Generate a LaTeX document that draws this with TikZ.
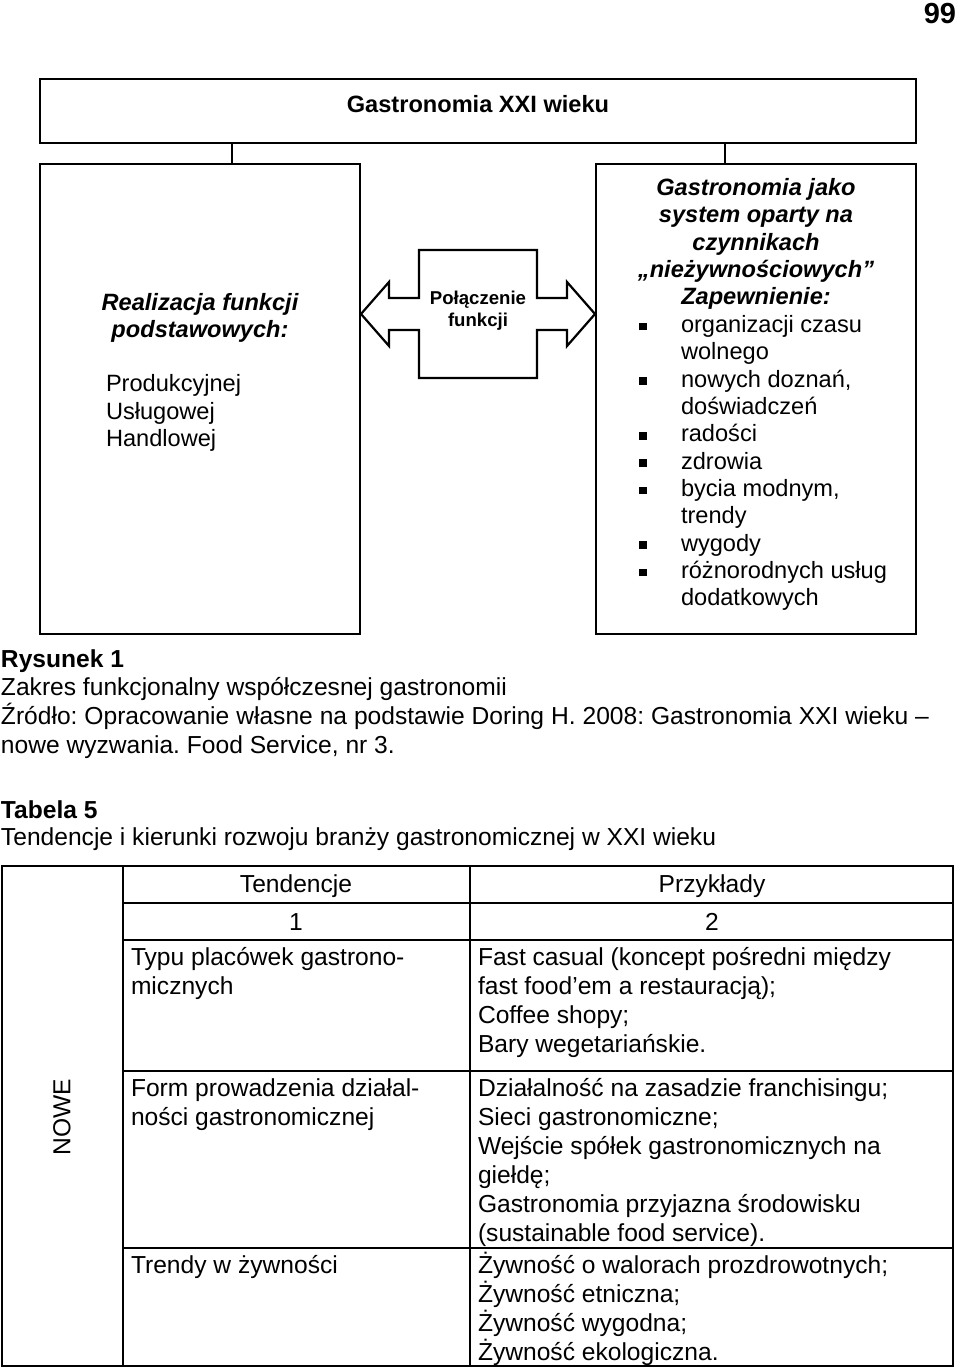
\documentclass[tikz,border=0pt]{standalone}
\usepackage{fontspec}
\setmainfont{Liberation Sans}
\usepackage{tikz}
\usetikzlibrary{arrows.meta, positioning, calc}

\newcommand{\sqbul}{\makebox[21pt][l]{\raisebox{1.1pt}{\rule{3.8pt}{3.8pt}}}}
\newcommand{\hang}{\hspace*{21pt}}
\frenchspacing

\begin{document}
\begin{tikzpicture}[x=0.5pt, y=-0.5pt, every node/.style={inner sep=0pt, outer sep=0pt},
    frame/.style={draw, line width=1.1pt, fill=white},
    cell/.style={draw, line width=0.8pt},
    diag/.style={font=\fontsize{11.8}{13.65}\selectfont},
    diagbi/.style={font=\fontsize{11.8}{13.65}\selectfont\bfseries\itshape},
    body/.style={font=\fontsize{12.3}{14.5}\selectfont},
    bodyb/.style={font=\fontsize{12.3}{14.5}\selectfont\bfseries}]
        \useasboundingbox (0,0) rectangle (960,1368);
        \node[font=\fontsize{14.5}{16}\selectfont\bfseries, anchor=east] (page) at (956,14) {99};

        % diagram
        \node[frame, minimum width=438pt, minimum height=32pt, anchor=north west] (gastro) at (40,79) {};
        \node[frame, minimum width=160pt, minimum height=235pt, anchor=north west] (basic) at (40,164) {};
        \node[frame, minimum width=160pt, minimum height=235pt, anchor=north west] (nonfood) at (596,164) {};
        \coordinate (lx) at (232,0);
        \coordinate (rx) at (725,0);
        \draw[line width=1.1pt] (gastro.south -| lx) -- (basic.north -| lx);
        \draw[line width=1.1pt] (gastro.south -| rx) -- (nonfood.north -| rx);

        \node[diag, font=\fontsize{11.8}{13.65}\selectfont\bfseries] (gastrot) at (478,104) {Gastronomia XXI wieku};
        \node[diagbi, align=center] (basict) at (200,318) {Realizacja funkcji\\podstawowych:};
        \node[diag, align=left, anchor=west] (basicl) at (106,413) {Produkcyjnej\\Usługowej\\Handlowej};
        \node[diagbi, align=center] (nonfoodt) at (756,244) {Gastronomia jako\\system oparty na\\czynnikach\\„nieżywnościowych”\\Zapewnienie:};
        \node[diag, align=left, anchor=west] (items) at (639,463) {\sqbul organizacji czasu\\\hang wolnego\\\sqbul nowych doznań,\\\hang doświadczeń\\\sqbul radości\\\sqbul zdrowia\\\sqbul bycia modnym,\\\hang trendy\\\sqbul wygody\\\sqbul różnorodnych usług\\\hang dodatkowych};

        % double arrow
        \node[minimum width=59pt, minimum height=64pt] (link) at (478,314) {};
        \draw[line width=1.1pt, fill=white, shift={(link.center)}] (-59,-64) -- (59,-64) -- (59,-16) -- (89,-16) -- (89,-32) -- (117,0) -- (89,32) -- (89,16) -- (59,16) -- (59,64) -- (-59,64) -- (-59,16) -- (-89,16) -- (-89,32) -- (-117,0) -- (-89,-32) -- (-89,-16) -- (-59,-16) -- cycle;
        \node[font=\fontsize{9.3}{11}\selectfont\bfseries, align=center] (linkt) at ([yshift=1.5pt]link.center) {Połączenie\\funkcji};

        % captions
        \node[bodyb, anchor=west] (rys) at (1,661) {Rysunek 1};
        \node[body, anchor=west] (rysd) at (1,689) {Zakres funkcjonalny współczesnej gastronomii};
        \node[body, text width=464pt, align=justify, anchor=west] (src) at (1,731) {Źródło: Opracowanie własne na podstawie Doring H. 2008: Gastronomia XXI wieku –\linebreak nowe wyzwania. Food Service, nr 3.};
        \node[bodyb, anchor=west] (tab) at (1,810) {Tabela 5};
        \node[body, anchor=west] (tabd) at (1,839) {Tendencje i kierunki rozwoju branży gastronomicznej w XXI wieku};

        % table
        \draw[cell] (2,866) rectangle (953,1366);
        \draw[cell] (123,866) -- (123,1366);
        \draw[cell] (470,866) -- (470,1366);
        \foreach \y in {903,940,1071,1248}
            \draw[cell] (123,\y) -- (953,\y);

        \node[body, rotate=90] (nowe) at (62,1117) {NOWE};
        \node[body] (hd1) at (296,886) {Tendencje};
        \node[body] (hd2) at (712,886) {Przykłady};
        \node[body] (no1) at (296,922) {1};
        \node[body] (no2) at (712,922) {2};

        \node[body, align=left, anchor=west] (typl) at (131,973.5) {Typu placówek gastrono-\\micznych};
        \node[body, align=left, anchor=west] (typr) at (478,1002) {Fast casual (koncept pośredni między\\fast food’em a restauracją);\\Coffee shopy;\\Bary wegetariańskie.};
        \node[body, align=left, anchor=west] (forml) at (131,1105) {Form prowadzenia działal-\\ności gastronomicznej};
        \node[body, align=left, anchor=west] (formr) at (478,1162) {Działalność na zasadzie franchisingu;\\Sieci gastronomiczne;\\Wejście spółek gastronomicznych na\\giełdę;\\Gastronomia przyjazna środowisku\\(sustainable food service).};
        \node[body, align=left, anchor=west] (trendl) at (131,1267) {Trendy w żywności};
        \node[body, align=left, anchor=west] (trendr) at (478,1309) {Żywność o walorach prozdrowotnych;\\Żywność etniczna;\\Żywność wygodna;\\Żywność ekologiczna.};
    \end{tikzpicture}
\end{document}
